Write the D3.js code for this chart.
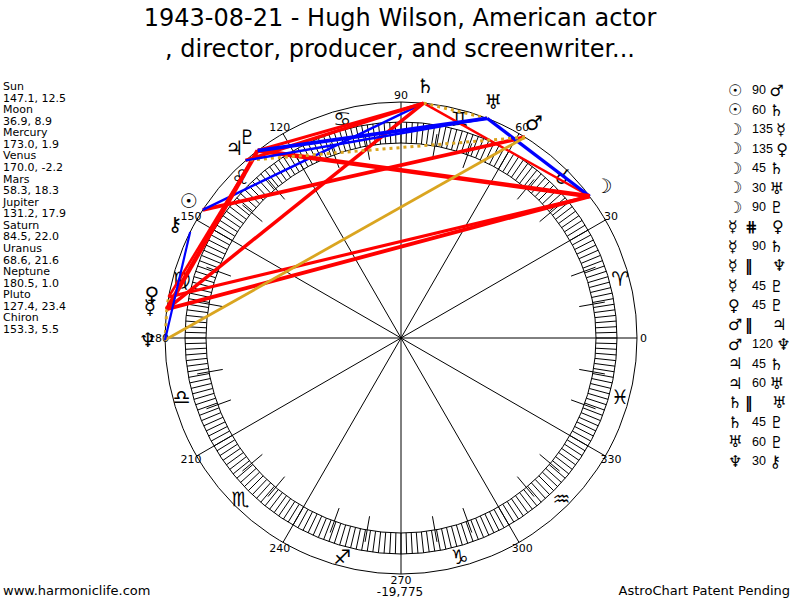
<!DOCTYPE html>
<html>
<head>
<meta charset="utf-8">
<script src="https://cdn.jsdelivr.net/npm/d3@7"></script>
<style>
body { margin: 0; background: #fff; }
svg { display: block; }
</style>
</head>
<body>
<div id="chart"></div>
<script>
// Chart data
const planetNames = ["Sun", "Moon", "Mercury", "Venus", "Mars", "Jupiter", "Saturn", "Uranus", "Neptune", "Pluto", "Chiron"];
const planetGlyphs = ["\u2609", "\u263D", "\u263F", "\u2640", "\u2642", "\u2643", "\u2644", "\u2645", "\u2646", "\u2647", "\u26B7"];
const longitudes = [147.1, 36.9, 173.0, 170.0, 58.3, 131.2, 84.5, 68.6, 180.5, 127.4, 153.3];
const declinations = ["12.5", "8.9", "1.9", "-2.2", "18.3", "17.9", "22.0", "21.6", "1.0", "23.4", "5.5"];

const aspectFrom = ["Sun", "Sun", "Moon", "Moon", "Moon", "Moon", "Moon", "Mercury", "Mercury", "Mercury",
    "Mercury", "Venus", "Mars", "Mars", "Jupiter", "Jupiter", "Saturn", "Saturn", "Uranus", "Neptune"];
const aspectKind = ["90", "60", "135", "135", "45", "30", "90", "#", "90", "||",
    "45", "45", "||", "120", "45", "60", "||", "45", "60", "30"];
const aspectTo = ["Mars", "Saturn", "Mercury", "Venus", "Saturn", "Uranus", "Pluto", "Venus", "Saturn", "Neptune",
    "Pluto", "Pluto", "Jupiter", "Neptune", "Saturn", "Uranus", "Uranus", "Pluto", "Pluto", "Chiron"];

const degreeLabels = [0, 30, 60, 90, 120, 150, 180, 210, 240, 270, 300, 330];
const signGlyphs = ["\u2648", "\u2649", "\u264A", "\u264B", "\u264C", "\u264D", "\u264E", "\u264F", "\u2650", "\u2651", "\u2652", "\u2653"];
const signMidpoints = [15, 45, 75, 105, 135, 165, 195, 225, 255, 285, 315, 345];

const titleLines = ["1943-08-21 - Hugh Wilson, American actor", ", director, producer, and screenwriter..."];

// Layout
const W = 800, H = 600;
const cx = 401, cy = 338;
const rOuter = 236, rBandOut = 216, rBandIn = 195;
const glyphFont = "'DejaVu Sans', sans-serif";
const textFont = "'DejaVu Sans', Verdana, sans-serif";

const svg = d3.select("#chart")
    .append("svg")
    .attr("width", W)
    .attr("height", H);

const ang = d3.scaleLinear().domain([0, 360]).range([0, 2 * Math.PI]);
const px = (deg, r) => cx + r * Math.cos(ang(deg));
const py = (deg, r) => cy - r * Math.sin(ang(deg));
const lon = Object.fromEntries(planetNames.map((n, i) => [n, longitudes[i]]));

// Title
svg.append("g").selectAll("text")
    .data(titleLines)
    .join("text")
    .attr("x", W / 2)
    .attr("y", (d, i) => 26 + i * 31)
    .attr("text-anchor", "middle")
    .style("font-family", textFont)
    .style("font-size", "24px")
    .text(d => d);

// Wheel circles
const wheel = svg.append("g").attr("fill", "none").attr("stroke", "#000").attr("stroke-width", 1);
[rOuter, rBandOut, rBandIn].forEach(r => {
    wheel.append("circle").attr("cx", cx).attr("cy", cy).attr("r", r);
});

// Band ticks
wheel.selectAll("line.tick")
    .data(d3.range(0, 360, 1.5))
    .join("line")
    .attr("class", "tick")
    .attr("x1", d => px(d, rBandIn)).attr("y1", d => py(d, rBandIn))
    .attr("x2", d => px(d, rBandOut)).attr("y2", d => py(d, rBandOut));

// Ten degree ticks
wheel.selectAll("line.ten")
    .data(d3.range(10, 360, 10).filter(d => d % 30 !== 0))
    .join("line")
    .attr("class", "ten")
    .attr("x1", d => px(d, 181)).attr("y1", d => py(d, 181))
    .attr("x2", d => px(d, 207)).attr("y2", d => py(d, 207));

// Spokes
wheel.selectAll("line.spoke")
    .data(degreeLabels)
    .join("line")
    .attr("class", "spoke")
    .attr("x1", cx).attr("y1", cy)
    .attr("x2", d => px(d, rOuter)).attr("y2", d => py(d, rOuter));

// Degree labels
svg.append("g").selectAll("text")
    .data(degreeLabels)
    .join("text")
    .attr("x", d => px(d, 242.5))
    .attr("y", d => py(d, 242.5))
    .attr("text-anchor", "middle")
    .attr("dominant-baseline", "central")
    .style("font-family", textFont)
    .style("font-size", "11px")
    .text(d => d);

// Zodiac signs
svg.append("g").selectAll("text")
    .data(signGlyphs)
    .join("text")
    .attr("x", (d, i) => px(signMidpoints[i], 227))
    .attr("y", (d, i) => py(signMidpoints[i], 227))
    .attr("text-anchor", "middle")
    .attr("dominant-baseline", "central")
    .style("font-family", glyphFont)
    .style("font-size", "20px")
    .text(d => d + "\uFE0E");

// Aspect lines
const orbWidth = d3.scaleLinear().domain([0, 3]).range([5, 2]).clamp(true);
const aspectColor = k => (k === "30" || k === "60") ? "#0000ff"
    : (k === "120" || k === "||" || k === "#") ? "#daa520" : "#ff0000";
const aspects = aspectKind.map((k, i) => {
    const a = lon[aspectFrom[i]], b = lon[aspectTo[i]];
    let diff = Math.abs(a - b);
    if (diff > 180) diff = 360 - diff;
    const parallel = (k === "||" || k === "#");
    return { a, b, k, parallel, orb: parallel ? 0 : Math.abs(diff - (+k)) };
});

svg.append("g").selectAll("line")
    .data(aspects)
    .join("line")
    .attr("x1", d => px(d.a, rOuter)).attr("y1", d => py(d.a, rOuter))
    .attr("x2", d => px(d.b, rOuter)).attr("y2", d => py(d.b, rOuter))
    .attr("stroke", d => aspectColor(d.k))
    .attr("stroke-width", d => d.parallel ? 3 : orbWidth(d.orb))
    .attr("stroke-dasharray", d => d.parallel ? "3,4" : null)
    .attr("stroke-linecap", "butt");

// Planet glyphs
svg.append("g").selectAll("text")
    .data(planetGlyphs)
    .join("text")
    .attr("x", (d, i) => px(longitudes[i], 253))
    .attr("y", (d, i) => py(longitudes[i], 253))
    .attr("text-anchor", "middle")
    .attr("dominant-baseline", "central")
    .style("font-family", glyphFont)
    .style("font-size", "20px")
    .text(d => d + "\uFE0E");

// Planet positions (left column)
const leftLines = planetNames.flatMap((n, i) => [n, longitudes[i].toFixed(1) + ", " + declinations[i]]);
svg.append("g").selectAll("text")
    .data(leftLines)
    .join("text")
    .attr("x", 3)
    .attr("y", (d, i) => 90 + i * 11.57)
    .style("font-family", textFont)
    .style("font-size", "11px")
    .text(d => d);

// Aspect legend (right column)
const glyphOf = Object.fromEntries(planetNames.map((n, i) => [n, planetGlyphs[i]]));
const legend = svg.append("g").style("font-family", glyphFont);
const rowY = i => 90 + i * 19.55;
aspectKind.forEach((k, i) => {
    const parallel = (k === "||" || k === "#");
    legend.append("text")
        .attr("x", 728).attr("y", rowY(i))
        .attr("dominant-baseline", "central")
        .style("font-size", "16px")
        .text(glyphOf[aspectFrom[i]] + "\uFE0E");
    if (parallel) {
        legend.append("text")
            .attr("x", 745).attr("y", rowY(i))
            .attr("dominant-baseline", "central")
            .style("font-size", "15px")
            .style("font-weight", "bold")
            .text(k === "||" ? "\u2016" : "\u22D5");
        legend.append("text")
            .attr("x", 772).attr("y", rowY(i))
            .attr("dominant-baseline", "central")
            .style("font-size", "16px")
            .text(glyphOf[aspectTo[i]] + "\uFE0E");
    } else {
        const t = legend.append("text")
            .attr("x", 752).attr("y", rowY(i))
            .attr("dominant-baseline", "central");
        t.append("tspan")
            .style("font-family", "'Liberation Sans', Arial, sans-serif")
            .style("font-size", "12.5px")
            .text(k + " ");
        t.append("tspan")
            .style("font-size", "16px")
            .text(glyphOf[aspectTo[i]] + "\uFE0E");
    }
});

// Footer
const footer = svg.append("g").style("font-family", textFont);
footer.append("text").attr("x", 3).attr("y", 595).style("font-size", "13px").text("www.harmoniclife.com");
footer.append("text").attr("x", 400).attr("y", 596).attr("text-anchor", "middle").style("font-size", "12px").text("-19,775");
footer.append("text").attr("x", 790).attr("y", 595).attr("text-anchor", "end").style("font-size", "13px").text("AstroChart Patent Pending");
</script>
</body>
</html>
